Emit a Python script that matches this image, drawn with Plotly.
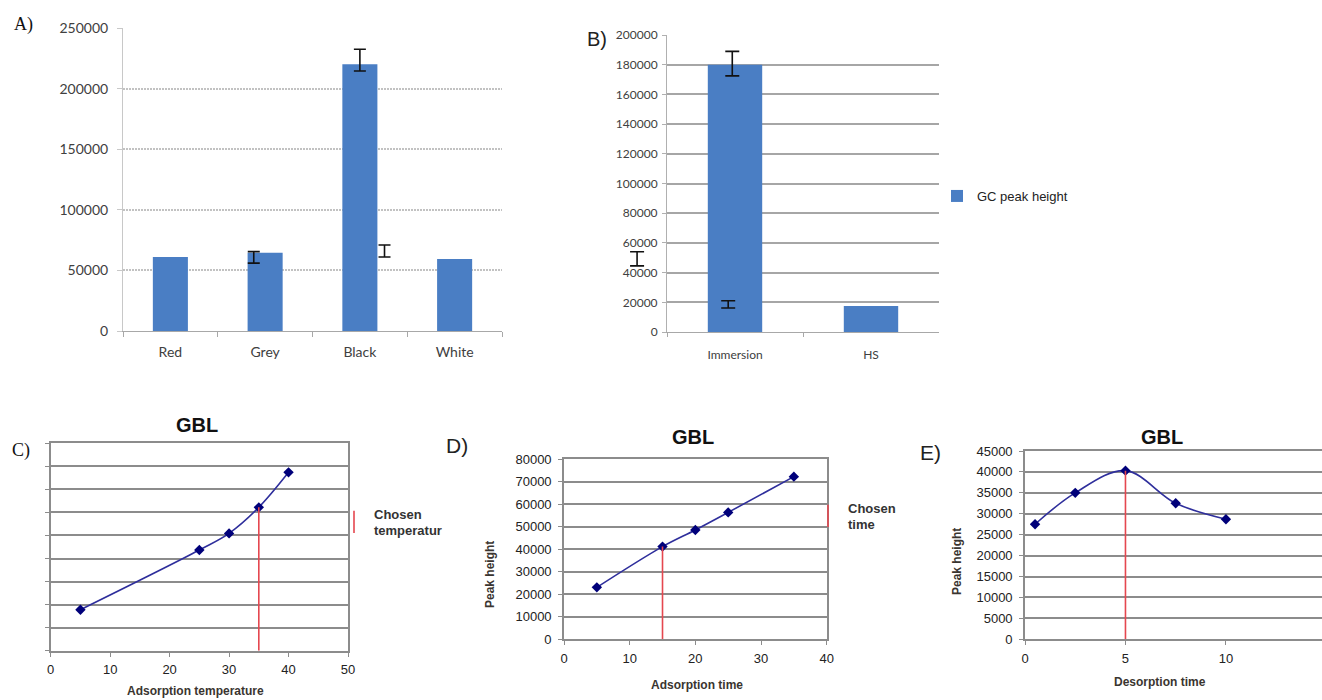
import plotly.graph_objects as go

W, H = 1322, 700

# ---------------- data ----------------
# Panel A
colors_a = ["Red", "Grey", "Black", "White"]
peak_a = [61000, 64500, 220000, 59500]
err_a_pos = [0.88, 2.0, 2.26]          # category units
err_a_low = [56000, 214500, 61000]
err_a_high = [65500, 232500, 71000]

# Panel B
modes_b = ["Immersion", "HS"]
peak_b = [180000, 17500]
err_b_pos = [-0.02, -0.05, -0.72]
err_b_low = [172500, 16200, 44500]
err_b_high = [189000, 21000, 54000]

# Panel C
temp_c = [5, 25, 30, 35, 40]
peak_c = [17800, 43700, 50900, 62200, 77400]
chosen_c = 35

# Panel D
time_d = [5, 15, 20, 25, 35]
peak_d = [23100, 41200, 48600, 56400, 72300]
chosen_d = 15

# Panel E
time_e = [0.5, 2.5, 5, 7.5, 10]
peak_e = [27500, 35000, 40300, 32500, 28700]
chosen_e = 5

# ---------------- helpers ----------------
def px(x):
    return x / W

def py(y):
    return 1 - y / H

BAR = "#4A7EC4"
NAVY_LINE = "#2F2F9C"
NAVY_MARK = "#00007A"
RED = "#E5474F"
ARIAL = "Liberation Sans"
CAL = "Lato"

fig = go.Figure()

# ---------------- Panel A ----------------
fig.add_trace(go.Bar(x=colors_a, y=peak_a, marker=dict(color=BAR, line=dict(width=0)),
                     width=0.37, xaxis="x", yaxis="y", showlegend=False))
ca = [(l + h) / 2 for l, h in zip(err_a_low, err_a_high)]
ea = [(h - l) / 2 for l, h in zip(err_a_low, err_a_high)]
fig.add_trace(go.Scatter(x=err_a_pos, y=ca, xaxis="x6", yaxis="y", mode="markers",
                         marker=dict(size=1, color="rgba(0,0,0,0)"),
                         error_y=dict(type="data", array=ea, symmetric=True, color="#111",
                                      thickness=1.6, width=6),
                         showlegend=False))

# ---------------- Panel B ----------------
fig.add_trace(go.Bar(x=modes_b, y=peak_b, marker=dict(color=BAR, line=dict(width=0)),
                     width=0.40, xaxis="x2", yaxis="y2", name="GC peak height",
                     legend="legend", showlegend=True))
cb = [(l + h) / 2 for l, h in zip(err_b_low, err_b_high)]
eb = [(h - l) / 2 for l, h in zip(err_b_low, err_b_high)]
fig.add_trace(go.Scatter(x=err_b_pos, y=cb, xaxis="x7", yaxis="y7", mode="markers",
                         marker=dict(size=1, color="rgba(0,0,0,0)"),
                         error_y=dict(type="data", array=eb, symmetric=True, color="#111",
                                      thickness=1.6, width=7),
                         showlegend=False))

# ---------------- line panels ----------------
def line_panel(xs, ys, chosen, xa, ya, legend_name=None, legend_id=None):
    fig.add_trace(go.Scatter(x=xs, y=ys, xaxis=xa, yaxis=ya, mode="lines+markers",
                             line=dict(color=NAVY_LINE, width=1.6, shape="spline", smoothing=1),
                             marker=dict(symbol="diamond", size=8, color=NAVY_MARK),
                             showlegend=False))
    yc = ys[xs.index(chosen)]
    fig.add_trace(go.Scatter(x=[chosen, chosen], y=[0, yc], xaxis=xa, yaxis=ya, mode="lines",
                             line=dict(color=RED, width=1.6), showlegend=False))
    if legend_name:
        fig.add_trace(go.Scatter(x=[None], y=[None], xaxis=xa, yaxis=ya, mode="markers",
                                 marker=dict(symbol="line-ns-open", size=16, color=RED,
                                             line=dict(color=RED, width=1.6)),
                                 name=legend_name, legend=legend_id, showlegend=True))

line_panel(temp_c, peak_c, chosen_c, "x3", "y3", "Chosen<br>temperatur", "legend2")
line_panel(time_d, peak_d, chosen_d, "x4", "y4", "Chosen<br>time", "legend3")
line_panel(time_e, peak_e, chosen_e, "x5", "y5")

# ---------------- axes ----------------
excel_tick = dict(family=CAL, size=14, color="#404040")
# B error-bar axes: same scale as B's category axis (0 -> 735 px, 1 -> 871 px), wider domain
b_left, b_right, b_c0, b_step = 600.0, 939.0, 735.0, 136.0
fig.update_layout(
    xaxis=dict(domain=[px(123), px(502)], anchor="y", type="category", range=[-0.5, 3.5],
               tickson="boundaries", ticks="outside", ticklen=5, tickcolor="#A8A8A8",
               showline=True, linecolor="#A8A8A8", linewidth=1, showgrid=False,
               tickfont=excel_tick, ticklabelstandoff=8, automargin=False),
    yaxis=dict(domain=[py(331), py(28)], anchor="x", range=[0, 250000], dtick=50000,
               tickformat="d", showgrid=True, gridcolor="#C2C2C2", griddash="2px,1px",
               gridwidth=1.5,
               showline=True, linecolor="#C8C8C8", ticks="outside", ticklen=5,
               tickcolor="#C8C8C8", tickfont=excel_tick, ticklabelstandoff=6, zeroline=False,
               automargin=False),
    xaxis6=dict(overlaying="x", anchor="y", range=[-0.5, 3.5], visible=False, automargin=False),

    xaxis2=dict(domain=[px(667), px(939)], anchor="y2", type="category", range=[-0.5, 1.5],
                tickson="boundaries", ticks="outside", ticklen=4, tickcolor="#A8A8A8",
                showline=True, linecolor="#A8A8A8", showgrid=False,
                tickfont=dict(family=CAL, size=12, color="#404040"), ticklabelstandoff=12,
                automargin=False),
    yaxis2=dict(domain=[py(332), py(35)], anchor="x2", range=[0, 200000], dtick=20000,
                tickformat="d", showgrid=True, gridcolor="#A6A6A6", gridwidth=1.6,
                showline=True, linecolor="#B0B0B0", ticks="outside", ticklen=4,
                tickcolor="#B0B0B0", tickfont=dict(family=CAL, size=12, color="#404040"),
                ticklabelstandoff=2, zeroline=False, automargin=False),
    xaxis7=dict(domain=[px(b_left), px(b_right)], anchor="y7",
                range=[(b_left - b_c0) / b_step, (b_right - b_c0) / b_step],
                visible=False, showgrid=False, automargin=False),
    yaxis7=dict(domain=[py(332), py(35)], anchor="x7", range=[0, 200000],
                visible=False, showgrid=False, automargin=False),
)

line_tick = dict(family=ARIAL, size=13, color="#222")
def line_axes(xd, yd, xr, xdt, yr, ydt, show_ylabels=True, mirror_y=True):
    xa = dict(domain=xd, range=xr, dtick=xdt, tick0=0, showline=True, mirror=True,
              linecolor="#8C8C8C", linewidth=1.6, ticks="outside", ticklen=4,
              tickcolor="#8C8C8C", showgrid=False, zeroline=False, tickfont=line_tick,
              ticklabelstandoff=2, automargin=False)
    ya = dict(domain=yd, range=yr, dtick=ydt, tickformat="d", showline=True,
              mirror=mirror_y, linecolor="#8C8C8C", linewidth=1.6, ticks="outside",
              ticklen=4, tickcolor="#8C8C8C", showgrid=True, gridcolor="#8C8C8C",
              gridwidth=1.6, zeroline=False, tickfont=line_tick,
              showticklabels=show_ylabels, ticklabelstandoff=4, automargin=False)
    return xa, ya

xa3, ya3 = line_axes([px(50.7), px(348)], [py(650.7), py(443.3)], [0, 50], 10,
                     [0, 90000], 10000, show_ylabels=False)
xa4, ya4 = line_axes([px(564), px(826.7)], [py(639.3), py(459.3)], [0, 40], 10,
                     [0, 80000], 10000)
xa5, ya5 = line_axes([px(1025), 1.0], [py(639.3), py(451)], [0, 14.78], 5,
                     [0, 45000], 5000, mirror_y=False)
xa3.update(anchor="y3"); ya3.update(anchor="x3")
xa4.update(anchor="y4"); ya4.update(anchor="x4")
xa5.update(anchor="y5"); ya5.update(anchor="x5")
fig.update_layout(xaxis3=xa3, yaxis3=ya3, xaxis4=xa4, yaxis4=ya4, xaxis5=xa5, yaxis5=ya5)

# ---------------- legends ----------------
fig.update_layout(
    legend=dict(x=px(937), y=py(196), xanchor="left", yanchor="middle",
                font=dict(family=ARIAL, size=13, color="#222"), bgcolor="rgba(0,0,0,0)"),
    legend2=dict(x=px(334), y=py(522), xanchor="left", yanchor="middle",
                 font=dict(family=ARIAL, size=13, color="#333", weight="bold"),
                 bgcolor="rgba(0,0,0,0)"),
    legend3=dict(x=px(808), y=py(516), xanchor="left", yanchor="middle",
                 font=dict(family=ARIAL, size=13, color="#333", weight="bold"),
                 bgcolor="rgba(0,0,0,0)"),
)

# ---------------- text annotations ----------------
def ann(text, x, y, size, family=ARIAL, color="#222", angle=0):
    return dict(text=text, x=px(x), y=py(y), xref="paper", yref="paper", showarrow=False,
                xanchor="center", yanchor="middle", textangle=angle,
                font=dict(family=family, size=size, color=color))

annotations = [
    ann("A)", 23, 25, 18, family="Liberation Serif", color="#111"),
    ann("B)", 597, 39, 20, color="#222"),
    ann("C)", 21, 451, 18, family="Liberation Serif", color="#111"),
    ann("D)", 457, 445, 21, color="#222"),
    ann("E)", 930, 452, 21, color="#222"),
    ann("<b>GBL</b>", 197, 425, 20, color="#111"),
    ann("<b>GBL</b>", 693, 437, 20, color="#111"),
    ann("<b>GBL</b>", 1162, 437, 20, color="#111"),
    ann("<b>Adsorption temperature</b>", 195, 691, 12, color="#3A3530"),
    ann("<b>Adsorption time</b>", 697, 685, 12, color="#3A3530"),
    ann("<b>Desorption time</b>", 1160, 682, 12, color="#3A3530"),
    ann("<b>Peak height</b>", 490, 575, 12, color="#3A3530", angle=-90),
    ann("<b>Peak height</b>", 957, 562, 12, color="#3A3530", angle=-90),
]

fig.update_layout(
    width=W, height=H, margin=dict(l=0, r=0, t=0, b=0, autoexpand=False),
    paper_bgcolor="white", plot_bgcolor="rgba(0,0,0,0)",
    annotations=annotations, showlegend=True,
)

fig.write_html("out.html", config={"displayModeBar": False},
               post_script="document.body.style.margin='0';document.body.style.overflow='hidden';")
